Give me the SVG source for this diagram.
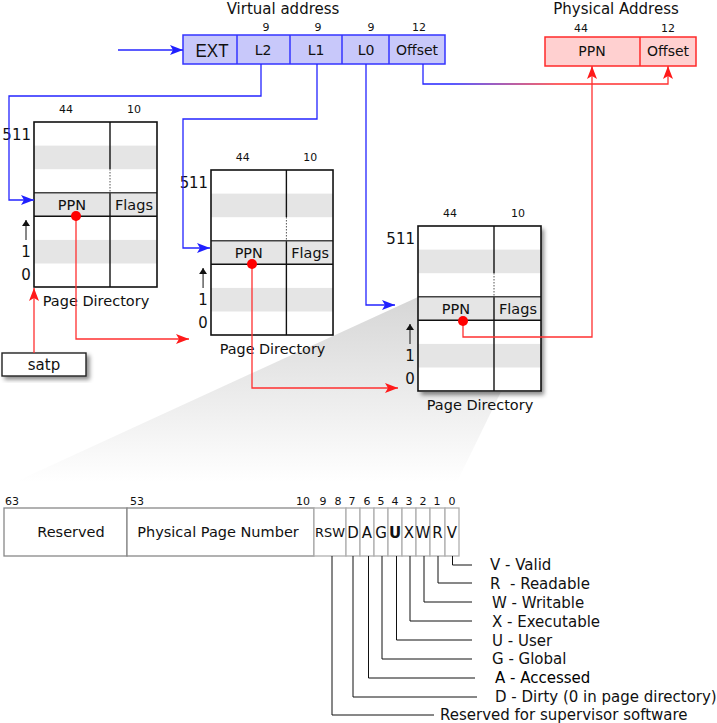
<svg xmlns="http://www.w3.org/2000/svg" xmlns:xlink="http://www.w3.org/1999/xlink" width="717" height="723" viewBox="0 0 717 723">
<style>
text{font-family:"DejaVu Sans","Liberation Sans",sans-serif;fill:#111}
.s10{font-size:10.5px}
.s11{font-size:11px}
.s14{font-size:14px}
.s15{font-size:15px}
.m{text-anchor:middle}
.e{text-anchor:end}
.band{fill:#e5e5e5}
.ln{stroke:#111;stroke-width:1.4;fill:none}
.blue{stroke:#2424ff;stroke-width:1.3;fill:none}
.red{stroke:#ff3030;stroke-width:1.3;fill:none}
.blk{stroke:#111;stroke-width:1;fill:none}
.va{fill:#c8c8fa;stroke:#3434ff;stroke-width:1.5}
.pa{fill:#ffd0d0;stroke:#ff2a2a;stroke-width:1.5}
.bit{fill:#fff;stroke:#b0b0b0;stroke-width:1.3}
.fld{fill:#fff;stroke:#888;stroke-width:1.3}
</style>
<defs>
<marker id="ab" viewBox="0 0 13 10" refX="13" refY="5" markerWidth="13" markerHeight="10" markerUnits="userSpaceOnUse" orient="auto">
<path d="M0,0 L13,5 L0,10 L3,5 z" fill="#2020ff"/>
</marker>
<marker id="ar" viewBox="0 0 13 10" refX="13" refY="5" markerWidth="13" markerHeight="10" markerUnits="userSpaceOnUse" orient="auto">
<path d="M0,0 L13,5 L0,10 L3,5 z" fill="#ff1a1a"/>
</marker>
<marker id="ak" viewBox="0 0 6 8" refX="6" refY="4" markerWidth="6" markerHeight="8" markerUnits="userSpaceOnUse" orient="auto">
<path d="M0,0 L6,4 L0,8 z" fill="#111"/>
</marker>
<linearGradient id="og" gradientUnits="userSpaceOnUse" x1="423" y1="0" x2="668" y2="0">
<stop offset="0.12" stop-color="#2424ff"/>
<stop offset="0.55" stop-color="#ff3030"/>
</linearGradient>
<linearGradient id="wg" gradientUnits="userSpaceOnUse" x1="0" y1="297" x2="0" y2="482">
<stop offset="0" stop-color="#d6d6d6"/>
<stop offset="1" stop-color="#ffffff"/>
</linearGradient>
<filter id="sh" x="-20%" y="-20%" width="150%" height="150%">
<feDropShadow dx="3" dy="3" stdDeviation="2" flood-color="#000" flood-opacity="0.45"/>
</filter>
<g id="tbl">
<rect x="0" y="0" width="123" height="165" fill="#fff"/>
<rect class="band" x="0" y="23.6" width="123" height="23.6"/>
<rect class="band" x="0" y="70.7" width="123" height="23.6"/>
<rect class="band" x="0" y="117.9" width="123" height="23.6"/>
<line class="ln" x1="76" y1="0" x2="76" y2="47"/>
<line x1="76" y1="47" x2="76" y2="70.7" stroke="#555" stroke-width="1" stroke-dasharray="1.5,1.5"/>
<line class="ln" x1="76" y1="70.7" x2="76" y2="165"/>
<line class="ln" x1="0" y1="70.7" x2="123" y2="70.7" style="stroke:#444"/>
<line class="ln" x1="0" y1="94.3" x2="123" y2="94.3"/>
<rect x="0" y="0" width="123" height="165" fill="none" stroke="#111" stroke-width="1.6"/>
<text class="s11 m" x="32" y="-9">44</text>
<text class="s11 m" x="100" y="-9">10</text>
<text class="m" x="38" y="88" style="font-size:14.5px">PPN</text>
<text class="m" x="100" y="88" style="font-size:14.5px">Flags</text>
<text class="s15 e" x="-3" y="18">511</text>
<text class="s15 m" x="-8" y="135">1</text>
<text class="s15 m" x="-8" y="158">0</text>
<line x1="-8" y1="118" x2="-8" y2="98" stroke="#111" stroke-width="1" marker-end="url(#ak)"/>
<text class="m" x="62" y="184" style="font-size:14.5px">Page Directory</text>
</g>
</defs>

<rect width="717" height="723" fill="#fff"/>

<g id="zoom-wedge">
<polygon points="418,297 531,330 457,482 15,482" fill="url(#wg)"/>
</g>

<g id="virtual-address">
<text class="s15 m" x="283" y="14">Virtual address</text>
<rect class="va" x="183" y="35" width="262" height="29"/>
<line class="va" x1="237" y1="35" x2="237" y2="64"/>
<line class="va" x1="290" y1="35" x2="290" y2="64"/>
<line class="va" x1="342" y1="35" x2="342" y2="64"/>
<line class="va" x1="389" y1="35" x2="389" y2="64"/>
<text class="s11 m" x="266" y="31">9</text>
<text class="s11 m" x="318" y="31">9</text>
<text class="s11 m" x="371" y="31">9</text>
<text class="s11 m" x="419" y="31">12</text>
<text class="m" x="212" y="57" style="font-family:'Liberation Sans',sans-serif;font-size:19px" textLength="33" lengthAdjust="spacingAndGlyphs">EXT</text>
<text class="s14 m" x="263" y="55">L2</text>
<text class="s14 m" x="316" y="55">L1</text>
<text class="s14 m" x="366" y="55">L0</text>
<text class="s14 m" x="417" y="55">Offset</text>
</g>

<g id="physical-address">
<text class="s15 m" x="616" y="14">Physical Address</text>
<rect class="pa" x="545" y="37" width="151" height="29"/>
<line class="pa" x1="640" y1="37" x2="640" y2="66"/>
<text class="s11 m" x="581" y="32">44</text>
<text class="s11 m" x="668" y="32">12</text>
<text class="s14 m" x="592" y="56">PPN</text>
<text class="s14 m" x="668" y="56">Offset</text>
</g>

<g id="page-directory-1">
<use xlink:href="#tbl" href="#tbl" transform="translate(34,122)"/>
</g>
<g id="page-directory-2">
<use xlink:href="#tbl" href="#tbl" transform="translate(211,170) scale(0.992,1)"/>
</g>
<g id="page-directory-3">
<rect x="418" y="226" width="123" height="166" fill="#fff" filter="url(#sh)"/>
<use xlink:href="#tbl" href="#tbl" transform="translate(418,226)"/>
</g>

<g id="satp">
<rect x="2" y="353" width="84" height="23" fill="#fff" stroke="#222" stroke-width="1.4" filter="url(#sh)"/>
<text class="s15 m" x="44" y="370">satp</text>
</g>

<g id="connectors">
<line class="blue" x1="118" y1="50" x2="183" y2="50" marker-end="url(#ab)"/>
<path class="blue" d="M261,64 V96 H9 V200 H34" marker-end="url(#ab)"/>
<path class="blue" d="M317,64 V119 H183 V248 H210" marker-end="url(#ab)"/>
<path class="blue" d="M366,64 V305 H395" marker-end="url(#ab)"/>
<path d="M423,64 V84 H668 V66" fill="none" stroke="url(#og)" stroke-width="1.3" marker-end="url(#ar)"/>
<path class="red" d="M34,353 V288" marker-end="url(#ar)"/>
<path class="red" d="M76,216 V339 H189" marker-end="url(#ar)"/>
<path class="red" d="M252,264 V388 H398" marker-end="url(#ar)"/>
<path class="red" d="M463,321 V337 H592 V66" marker-end="url(#ar)"/>
<circle cx="76" cy="216" r="5" fill="#f00"/>
<circle cx="252" cy="264" r="5" fill="#f00"/>
<circle cx="463" cy="321" r="5" fill="#f00"/>
</g>

<g id="pte-format">
<rect class="fld" x="4" y="508" width="123" height="48"/>
<rect class="fld" x="127" y="508" width="187" height="48"/>
<rect class="bit" x="314" y="508" width="32" height="48"/>
<rect class="bit" x="346" y="508" width="14" height="48"/>
<rect class="bit" x="360" y="508" width="14" height="48"/>
<rect class="bit" x="374" y="508" width="14" height="48"/>
<rect class="bit" x="388" y="508" width="14" height="48"/>
<rect class="bit" x="402" y="508" width="14" height="48"/>
<rect class="bit" x="416" y="508" width="14" height="48"/>
<rect class="bit" x="430" y="508" width="15" height="48"/>
<rect class="bit" x="445" y="508" width="14" height="48"/>
<text class="m" x="71" y="537" style="font-size:14.5px">Reserved</text>
<text class="m" x="218" y="537" style="font-size:14.5px">Physical Page Number</text>
<text class="m" x="330" y="537" style="font-size:13px" textLength="30" lengthAdjust="spacingAndGlyphs">RSW</text>
<text class="s15 m" x="353" y="538">D</text>
<text class="s15 m" x="367" y="538">A</text>
<text class="s15 m" x="381" y="538">G</text>
<text class="s15 m" x="395" y="538" style="font-weight:bold">U</text>
<text class="s15 m" x="409" y="538">X</text>
<text class="s15 m" x="423" y="538">W</text>
<text class="s15 m" x="437.5" y="538">R</text>
<text class="s15 m" x="452" y="538">V</text>
<text class="s11" x="5" y="505">63</text>
<text class="s11" x="130" y="505">53</text>
<text class="s11 m" x="303" y="505">10</text>
<text class="s11 m" x="323" y="505">9</text>
<text class="s11 m" x="338" y="505">8</text>
<text class="s11 m" x="352" y="505">7</text>
<text class="s11 m" x="367" y="505">6</text>
<text class="s11 m" x="381" y="505">5</text>
<text class="s11 m" x="395" y="505">4</text>
<text class="s11 m" x="409" y="505">3</text>
<text class="s11 m" x="423" y="505">2</text>
<text class="s11 m" x="437" y="505">1</text>
<text class="s11 m" x="452" y="505">0</text>
</g>

<g id="legend-lines">
<path class="blk" d="M452.5,556 V565 H472"/>
<path class="blk" d="M438,556 V583 H472"/>
<path class="blk" d="M424,556 V602 H472"/>
<path class="blk" d="M410,556 V621 H472"/>
<path class="blk" d="M396.5,556 V640 H472"/>
<path class="blk" d="M382,556 V659 H472"/>
<path class="blk" d="M368.5,556 V678 H475"/>
<path class="blk" d="M353,556 V697 H477"/>
<path class="blk" d="M332,556 V715 H434"/>
</g>

<g id="legend">
<text class="s15" x="490" y="570">V - Valid</text>
<text class="s15" x="490" y="589" xml:space="preserve">R  - Readable</text>
<text class="s15" x="492" y="608">W - Writable</text>
<text class="s15" x="492" y="627">X - Executable</text>
<text class="s15" x="492" y="646">U - User</text>
<text class="s15" x="492" y="664">G - Global</text>
<text class="s15" x="495" y="683" style="fill:#000">A - Accessed</text>
<text class="s15" x="495" y="702">D - Dirty (0 in page directory)</text>
<text class="s15" x="440" y="720">Reserved for supervisor software</text>
</g>
</svg>
